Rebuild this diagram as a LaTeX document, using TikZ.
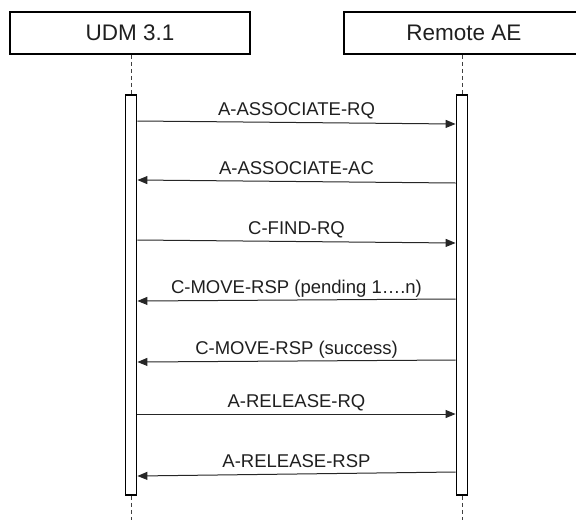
\documentclass[tikz,border=0pt]{standalone}
\usepackage{fontspec}
\setmainfont{Liberation Sans}
\usetikzlibrary{arrows.meta, positioning}

\begin{document}
\begin{tikzpicture}[
    x=1pt, y=-1pt,
    actor/.style={rectangle, draw, line width=1.8pt, minimum width=240pt, minimum height=42pt, inner sep=0pt, font=\fontsize{22.5}{26}\selectfont, text=black!88},
    bar/.style={rectangle, draw, line width=1.8pt, fill=white, minimum width=11pt, minimum height=400pt, inner sep=0pt},
    life/.style={dash pattern=on 4pt off 3pt, black!75, line width=0.9pt},
    msg/.style={-{Triangle[length=10pt,width=8pt]}, line width=1pt, black!85},
    lbl/.style={anchor=base, yshift=7pt, inner sep=0pt, font=\fontsize{18.5}{21}\selectfont, text=black!88}
]
\useasboundingbox (0,0) rectangle (576,520);

% participants
\node[actor] (udm) at (130,33) {UDM 3.1};
\node[actor] (remote) at (464,33) {Remote AE};

% activation bars
\node[bar] (udmbar) at (131,295) {};
\node[bar] (remotebar) at (462,295) {};

% lifelines
\coordinate (udmend) at (131,520);
\coordinate (remoteend) at (462,520);
\draw[life] (udm.south -| udmbar.north) -- (udmbar.north);
\draw[life] (remote.south -| remotebar.north) -- (remotebar.north);
\draw[life] (udmbar.south) -- (udmend);
\draw[life] (remotebar.south) -- (remoteend);

% message ends
\coordinate (u1) at (udmbar.east |- 0,121);  \coordinate (r1) at (remotebar.west |- 0,124);
\coordinate (u2) at (udmbar.east |- 0,180);  \coordinate (r2) at (remotebar.west |- 0,183);
\coordinate (u3) at (udmbar.east |- 0,240);  \coordinate (r3) at (remotebar.west |- 0,243);
\coordinate (u4) at (udmbar.east |- 0,301);  \coordinate (r4) at (remotebar.west |- 0,299);
\coordinate (u5) at (udmbar.east |- 0,362);  \coordinate (r5) at (remotebar.west |- 0,360);
\coordinate (u6) at (udmbar.east |- 0,414);  \coordinate (r6) at (remotebar.west |- 0,414);
\coordinate (u7) at (udmbar.east |- 0,476);  \coordinate (r7) at (remotebar.west |- 0,472);

% messages
\draw[msg] (u1) -- node[lbl] {A-ASSOCIATE-RQ} (r1);
\draw[msg] (r2) -- node[lbl] {A-ASSOCIATE-AC} (u2);
\draw[msg] (u3) -- node[lbl] {C-FIND-RQ} (r3);
\draw[msg] (r4) -- node[lbl] {C-MOVE-RSP (pending 1….n)} (u4);
\draw[msg] (r5) -- node[lbl] {C-MOVE-RSP (success)} (u5);
\draw[msg] (u6) -- node[lbl] {A-RELEASE-RQ} (r6);
\draw[msg] (r7) -- node[lbl] {A-RELEASE-RSP} (u7);

\end{tikzpicture}
\end{document}
